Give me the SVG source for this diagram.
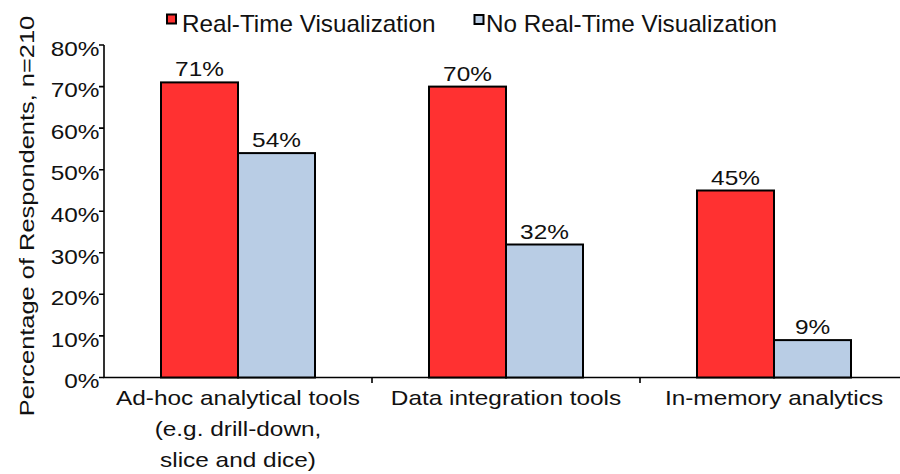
<svg xmlns="http://www.w3.org/2000/svg" width="900" height="474" viewBox="0 0 900 474">
  <style>
    text { font-family: "Liberation Sans", Arial, sans-serif; font-size: 20px; fill: #111; }
    .leg { font-size: 23px; }
    .mid { text-anchor: middle; }
    .end { text-anchor: end; }
    .axis { stroke: #000; stroke-width: 1.6; fill: none; }
    .rt { fill: #FF3131; stroke: #000; stroke-width: 2; }
    .nrt { fill: #B9CDE5; stroke: #000; stroke-width: 2; }
  </style>
  <rect width="900" height="474" fill="#fff"/>

  <!-- legend -->
  <g id="legend">
    <rect class="rt" x="167" y="14.5" width="9" height="9"/>
    <text class="leg" transform="translate(182,32) scale(1.055,1)">Real-Time Visualization</text>
    <rect class="nrt" x="474.5" y="15" width="9" height="9"/>
    <text class="leg" transform="translate(486,32) scale(1.055,1)">No Real-Time Visualization</text>
  </g>

  <!-- y axis title -->
  <text class="mid" transform="translate(34,216) rotate(-90) scale(1.27,1)">Percentage of Respondents, n=210</text>

  <!-- axes and ticks -->
  <g id="axes">
    <path class="axis" d="M104,45 V377.5 H900"/>
    <path class="axis" d="M99,45 H104 M99,86.6 H104 M99,128.1 H104 M99,169.7 H104 M99,211.2 H104 M99,252.8 H104 M99,294.3 H104 M99,335.9 H104 M99,377.5 H104"/>
    <path class="axis" d="M372,377.5 V383 M640,377.5 V383"/>
  </g>

  <!-- y tick labels -->
  <g id="ytick-labels">
    <text class="end" transform="translate(99.5,55.7) scale(1.22,1)">80%</text>
    <text class="end" transform="translate(99.5,97.3) scale(1.22,1)">70%</text>
    <text class="end" transform="translate(99.5,138.8) scale(1.22,1)">60%</text>
    <text class="end" transform="translate(99.5,180.4) scale(1.22,1)">50%</text>
    <text class="end" transform="translate(99.5,221.9) scale(1.22,1)">40%</text>
    <text class="end" transform="translate(99.5,263.5) scale(1.22,1)">30%</text>
    <text class="end" transform="translate(99.5,305) scale(1.22,1)">20%</text>
    <text class="end" transform="translate(99.5,346.6) scale(1.22,1)">10%</text>
    <text class="end" transform="translate(99.5,388.2) scale(1.22,1)">0%</text>
  </g>

  <!-- bars -->
  <g id="adhoc">
    <rect class="rt" x="161" y="82.4" width="77" height="295.1"/>
    <rect class="nrt" x="238" y="153.1" width="77" height="224.4"/>
    <text class="mid" transform="translate(199.5,76.4) scale(1.22,1)">71%</text>
    <text class="mid" transform="translate(276.5,147.1) scale(1.22,1)">54%</text>
    <text class="mid" transform="translate(238,405) scale(1.22,1)">Ad-hoc analytical tools</text>
    <text class="mid" transform="translate(238,436) scale(1.22,1)">(e.g. drill-down,</text>
    <text class="mid" transform="translate(238,466.5) scale(1.22,1)">slice and dice)</text>
  </g>

  <g id="integration">
    <rect class="rt" x="429" y="86.6" width="77" height="290.9"/>
    <rect class="nrt" x="506" y="244.5" width="77" height="133"/>
    <text class="mid" transform="translate(467.5,80.6) scale(1.22,1)">70%</text>
    <text class="mid" transform="translate(544.5,238.5) scale(1.22,1)">32%</text>
    <text class="mid" transform="translate(506,405) scale(1.22,1)">Data integration tools</text>
  </g>

  <g id="inmemory">
    <rect class="rt" x="697" y="190.5" width="77" height="187"/>
    <rect class="nrt" x="774" y="340.1" width="77" height="37.4"/>
    <text class="mid" transform="translate(735.5,184.5) scale(1.22,1)">45%</text>
    <text class="mid" transform="translate(812.5,334.1) scale(1.22,1)">9%</text>
    <text class="mid" transform="translate(774,405) scale(1.22,1)">In-memory analytics</text>
  </g>
</svg>
